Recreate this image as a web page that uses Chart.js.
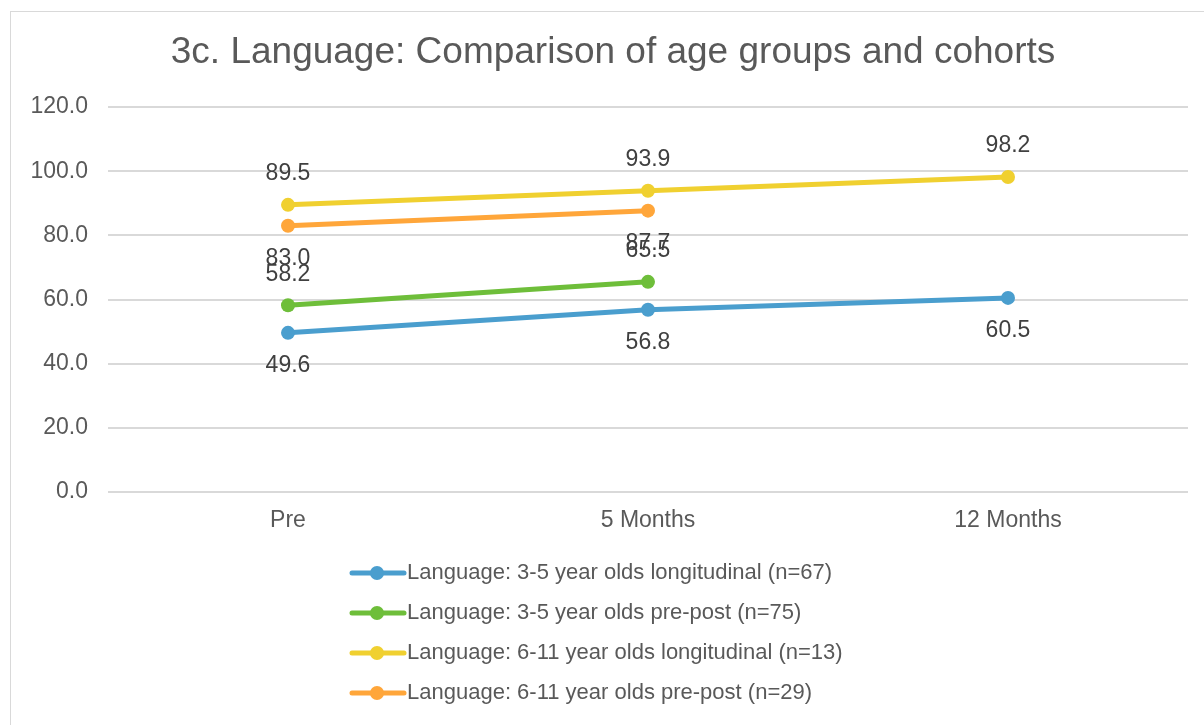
<!DOCTYPE html>
<html>
<head>
<meta charset="utf-8">
<script src="https://cdn.jsdelivr.net/npm/chart.js@4/dist/chart.umd.min.js"></script>
<style>
  html, body { margin: 0; padding: 0; background: #ffffff; }
  #wrap { width: 1204px; height: 725px; }
</style>
</head>
<body>
<div id="wrap"><canvas id="c" width="1204" height="725"></canvas></div>
<script>
const titleText = "3c. Language: Comparison of age groups and cohorts";
const categories = ["Pre", "5 Months", "12 Months"];
const seriesNames = [
  "Language: 3-5 year olds longitudinal (n=67)",
  "Language: 3-5 year olds pre-post (n=75)",
  "Language: 6-11 year olds longitudinal (n=13)",
  "Language: 6-11 year olds pre-post (n=29)"
];
const lang35Longitudinal = [49.6, 56.8, 60.5];
const lang35PrePost = [58.2, 65.5, null];
const lang611Longitudinal = [89.5, 93.9, 98.2];
const lang611PrePost = [83.0, 87.7, null];
const yTicks = [0, 20, 40, 60, 80, 100, 120];

const colors = ["#4A9ECE", "#6EBE3A", "#F0D030", "#FFA63A"];
const labelSide = ["below", "above", "above", "below"];
const allSeries = [lang35Longitudinal, lang35PrePost, lang611Longitudinal, lang611PrePost];
const FONT = '"Liberation Sans", Arial, sans-serif';

const datasets = allSeries.map((d, i) => ({
  label: seriesNames[i],
  data: d,
  borderColor: colors[i],
  backgroundColor: colors[i],
  pointBackgroundColor: colors[i],
  pointBorderColor: colors[i],
  borderWidth: 5,
  pointRadius: 7,
  pointHoverRadius: 7,
  pointBorderWidth: 0,
  tension: 0,
  spanGaps: false,
  labelSide: labelSide[i]
}));

const borderPlugin = {
  id: 'frame',
  beforeDraw(chart) {
    const ctx = chart.ctx;
    ctx.save();
    ctx.fillStyle = '#ffffff';
    ctx.fillRect(0, 0, chart.width, chart.height);
    ctx.strokeStyle = '#d9d9d9';
    ctx.lineWidth = 1;
    ctx.strokeRect(10.5, 11.5, 1400, 1000);
    ctx.restore();
  },
  afterDraw(chart) {
    const ctx = chart.ctx;
    ctx.save();
    ctx.font = '37px ' + FONT;
    ctx.fillStyle = '#595959';
    ctx.textAlign = 'center';
    ctx.textBaseline = 'middle';
    ctx.fillText(titleText, 613, 53);
    ctx.restore();
  }
};

const valueLabels = {
  id: 'valueLabels',
  afterDatasetsDraw(chart) {
    const ctx = chart.ctx;
    ctx.save();
    ctx.font = '23px ' + FONT;
    ctx.fillStyle = '#404040';
    ctx.textAlign = 'center';
    ctx.textBaseline = 'middle';
    chart.data.datasets.forEach((ds, i) => {
      const meta = chart.getDatasetMeta(i);
      meta.data.forEach((pt, j) => {
        const v = ds.data[j];
        if (v === null || v === undefined) return;
        const dy = ds.labelSide === 'above' ? -31 : 33;
        ctx.fillText(v.toFixed(1), pt.x, pt.y + dy);
      });
    });
    ctx.restore();
  }
};

const customLegend = {
  id: 'customLegend',
  afterDraw(chart) {
    const ctx = chart.ctx;
    ctx.save();
    ctx.font = '22px ' + FONT;
    ctx.textBaseline = 'middle';
    ctx.textAlign = 'left';
    chart.data.datasets.forEach((ds, i) => {
      const y = 573 + i * 40;
      ctx.strokeStyle = ds.borderColor;
      ctx.lineWidth = 5;
      ctx.lineCap = 'round';
      ctx.beginPath();
      ctx.moveTo(352, y);
      ctx.lineTo(404, y);
      ctx.stroke();
      ctx.fillStyle = ds.borderColor;
      ctx.beginPath();
      ctx.arc(377, y, 7, 0, Math.PI * 2);
      ctx.fill();
      ctx.fillStyle = '#595959';
      ctx.fillText(ds.label, 407, y);
    });
    ctx.restore();
  }
};

new Chart(document.getElementById('c'), {
  type: 'line',
  data: { labels: categories, datasets: datasets },
  options: {
    responsive: false,
    animation: false,
    devicePixelRatio: 1,
    layout: { padding: { left: 0, right: 16, top: 107, bottom: 0 } },
    plugins: {
      legend: { display: false },
      tooltip: { enabled: false },
      title: { display: false }
    },
    scales: {
      x: {
        offset: true,
        grid: { display: false, drawTicks: false },
        border: { display: false },
        ticks: {
          color: '#595959',
          font: { family: FONT, size: 23 },
          padding: 15
        },
        afterFit(scale) { scale.height = 233; }
      },
      y: {
        min: 0,
        max: 120,
        afterBuildTicks(scale) { scale.ticks = yTicks.map(v => ({ value: v })); },
        grid: { color: '#d9d9d9', lineWidth: 2, drawTicks: false },
        border: { display: false },
        ticks: {
          color: '#595959',
          font: { family: FONT, size: 23 },
          padding: 20,
          callback: v => Number(v).toFixed(1)
        },
        afterFit(scale) { scale.width = 108; }
      }
    }
  },
  plugins: [borderPlugin, valueLabels, customLegend]
});
</script>
</body>
</html>
